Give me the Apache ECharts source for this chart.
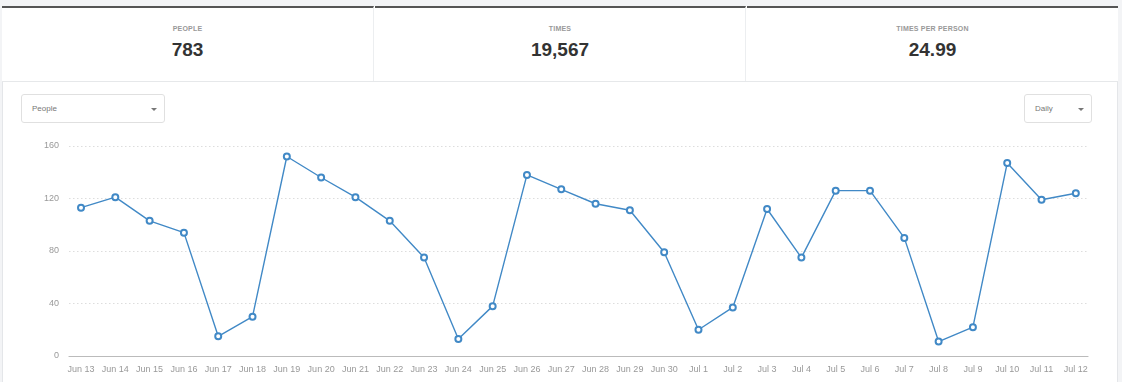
<!DOCTYPE html>
<html>
<head>
<meta charset="utf-8">
<script src="https://cdn.jsdelivr.net/npm/echarts@6/dist/echarts.min.js"></script>
<style>
  html, body { margin:0; padding:0; width:1122px; height:382px; overflow:hidden; background:#f3f4f6; font-family:"Liberation Sans", Arial, Helvetica, sans-serif; }
  #card { position:absolute; left:2px; top:6px; width:1116px; height:376px; background:#fff; border-left:1px solid #e4e6e9; border-right:1px solid #e4e6e9; box-sizing:border-box; }
  .stat { position:absolute; top:6px; height:75px; box-sizing:border-box; border-top:2px solid #555; text-align:center; background:#fff; }
  .stat .lbl { position:absolute; left:0; right:0; top:17px; font-size:7px; font-weight:bold; color:#999; letter-spacing:0.2px; }
  .stat .val { position:absolute; left:0; right:0; top:31px; font-size:19px; font-weight:bold; color:#333; }
  #s1 { left:2px; width:372px; border-right:1px solid #eceef0; }
  #s2 { left:375px; width:371px; border-right:1px solid #eceef0; }
  #s3 { left:747px; width:371px; }
  #sep { position:absolute; left:2px; width:1116px; top:81px; height:1px; background:#e6e8ea; }
  .dd { position:absolute; top:94px; height:29px; box-sizing:border-box; border:1px solid #e0e0e0; border-radius:3px; background:#fff; font-size:8px; color:#777; }
  .dd span { position:absolute; top:9px; }
  .dd .car { position:absolute; top:13px; width:0; height:0; border-left:3px solid transparent; border-right:3px solid transparent; border-top:3px solid #777; }
  #chart { position:absolute; left:0; top:0; width:1122px; height:382px; }
</style>
</head>
<body>
<div id="card"></div>
<div id="s1" class="stat"><div class="lbl">PEOPLE</div><div class="val">783</div></div>
<div id="s2" class="stat"><div class="lbl">TIMES</div><div class="val">19,567</div></div>
<div id="s3" class="stat"><div class="lbl">TIMES PER PERSON</div><div class="val">24.99</div></div>
<div id="sep"></div>
<div id="chart"></div>
<div class="dd" style="left:21px;width:144px;"><span style="left:10px;">People</span><div class="car" style="left:129px;"></div></div>
<div class="dd" style="left:1024px;width:68px;"><span style="left:10px;">Daily</span><div class="car" style="left:53px;"></div></div>
<script>
const categories = ["Jun 13","Jun 14","Jun 15","Jun 16","Jun 17","Jun 18","Jun 19","Jun 20","Jun 21","Jun 22","Jun 23","Jun 24","Jun 25","Jun 26","Jun 27","Jun 28","Jun 29","Jun 30","Jul 1","Jul 2","Jul 3","Jul 4","Jul 5","Jul 6","Jul 7","Jul 8","Jul 9","Jul 10","Jul 11","Jul 12"];
const people = [113,121,103,94,15,30,152,136,121,103,75,13,38,138,127,116,111,79,20,37,112,75,126,126,90,11,22,147,119,124];
const yTicks = [0,40,80,120,160];

const chart = echarts.init(document.getElementById('chart'), null, {renderer:'canvas'});
const idx = categories.map((c, i) => i);
chart.setOption({
  animation:false,
  grid:{ left:69, right:34, top:146, bottom:26 },
  xAxis:{
    type:'value', min:-0.35, max:29.355,
    axisLine:{ show:true, lineStyle:{ color:'#bbb', width:1.2 } },
    axisTick:{ show:false },
    splitLine:{ show:false },
    axisLabel:{ customValues: idx, formatter: v => categories[Math.round(v)] || '', color:'#999', fontSize:9, margin:9, fontFamily:'Liberation Sans, Arial, sans-serif' }
  },
  yAxis:{
    type:'value', min:yTicks[0], max:yTicks[yTicks.length-1], interval:40,
    axisLine:{ show:false }, axisTick:{ show:false },
    axisLabel:{ color:'#999', fontSize:9, margin:10, fontFamily:'Liberation Sans, Arial, sans-serif' },
    splitLine:{ show:true, lineStyle:{ color:'#ddd', type:[1.5,2.5], width:1 } }
  },
  series:[{
    type:'line', name:'People',
    data: people.map((v, i) => [idx[i], v]),
    symbol:'emptyCircle', symbolSize:6,
    lineStyle:{ color:'#4189c6', width:1.4 },
    itemStyle:{ color:'#4189c6', borderWidth:1 }
  }]
});
</script>
</body>
</html>
